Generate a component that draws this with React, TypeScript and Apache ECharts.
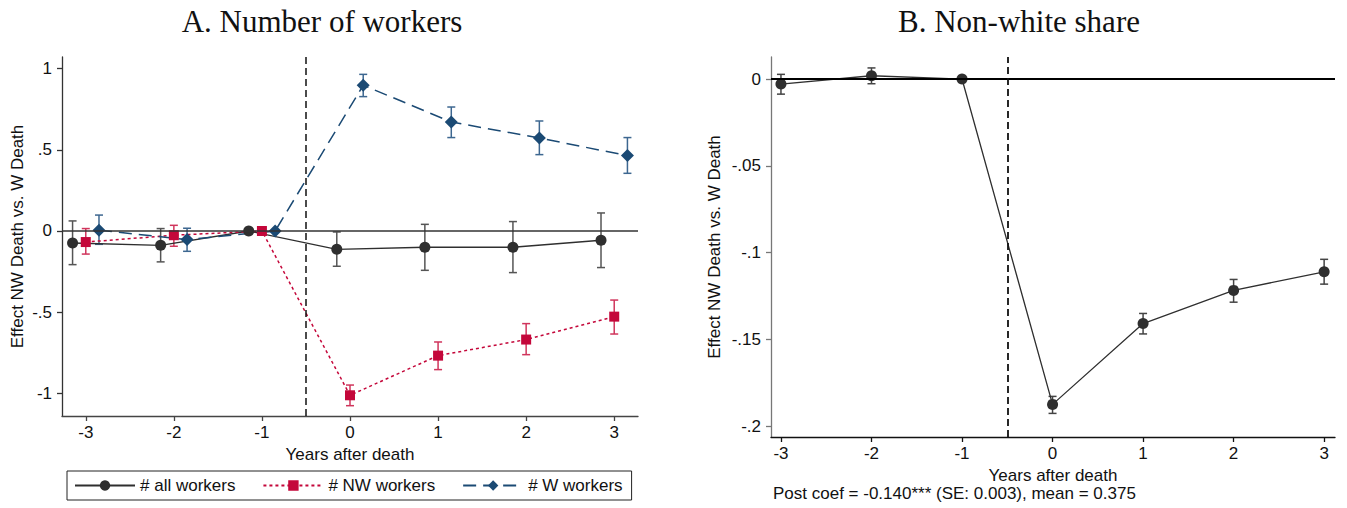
import React, { useEffect, useRef } from "react";
import * as echarts from "echarts";

// Event-study estimates by year relative to the death
const years = [-3, -2, -1, 0, 1, 2, 3];

// Panel A: number of workers
const allCoef = [-0.074, -0.088, 0, -0.113, -0.1, -0.1, -0.057];
const allLo = [-0.207, -0.19, null, -0.217, -0.242, -0.256, -0.225];
const allHi = [0.062, 0.015, null, -0.006, 0.041, 0.058, 0.111];

const nwCoef = [-0.068, -0.026, 0, -1.011, -0.767, -0.668, -0.527];
const nwLo = [-0.142, -0.094, null, -1.075, -0.853, -0.761, -0.634];
const nwHi = [0.015, 0.035, null, -0.948, -0.683, -0.57, -0.425];

const wCoef = [0.005, -0.053, 0, 0.897, 0.671, 0.572, 0.464];
const wLo = [-0.082, -0.125, null, 0.827, 0.575, 0.47, 0.355];
const wHi = [0.098, 0.017, null, 0.964, 0.763, 0.677, 0.575];

// Panel B: non-white share
const shareCoef = [-0.0029, 0.0019, 0, -0.1875, -0.1409, -0.1218, -0.1111];
const shareLo = [-0.0087, -0.0027, null, -0.1927, -0.1469, -0.1286, -0.1182];
const shareHi = [0.0027, 0.0064, null, -0.1829, -0.1351, -0.1155, -0.1039];

const xTicks = [-3, -2, -1, 0, 1, 2, 3];
const yTicksA = [-1, -0.5, 0, 0.5, 1];
const yTicksB = [-0.2, -0.15, -0.1, -0.05, 0];

const titleA = "A. Number of workers";
const titleB = "B. Non-white share";
const yName = "Effect NW Death vs. W Death";
const xName = "Years after death";
const footnote = "Post coef = -0.140*** (SE: 0.003), mean = 0.375";

const SANS = '"Liberation Sans", Arial, sans-serif';
const SERIF = '"Liberation Serif", "DejaVu Serif", serif';

const GRAY = "#2f2f2f";
const RED = "#c4073a";
const BLUE = "#1b4a74";

const stataFmt = (v: number) => {
  const r = Math.round(v * 1000) / 1000;
  return String(r).replace(/^(-?)0\./, "$1.");
};

const points = (coef: number[], shift: number) =>
  years.map((y, i) => [y + shift, coef[i]]);

const bars = (lo: (number | null)[], hi: (number | null)[], shift: number) =>
  years
    .map((y, i) => (lo[i] == null ? null : [y + shift, lo[i], hi[i]]))
    .filter((d) => d !== null);

const errorBarSeries = (data: any[], color: string, axisIndex: number) => ({
  type: "custom",
  xAxisIndex: axisIndex,
  yAxisIndex: axisIndex,
  silent: true,
  z: 2,
  data,
  renderItem: (params: any, api: any) => {
    const x = api.value(0);
    const lo = api.coord([x, api.value(1)]);
    const hi = api.coord([x, api.value(2)]);
    const cap = 4;
    const style = { stroke: color, lineWidth: 1.5 };
    return {
      type: "group",
      children: [
        { type: "line", shape: { x1: lo[0], y1: lo[1], x2: hi[0], y2: hi[1] }, style },
        { type: "line", shape: { x1: lo[0] - cap, y1: lo[1], x2: lo[0] + cap, y2: lo[1] }, style },
        { type: "line", shape: { x1: hi[0] - cap, y1: hi[1], x2: hi[0] + cap, y2: hi[1] }, style },
      ],
    };
  },
});

const xAxisBase = (gridIndex: number, min: number, max: number, lineColor: string) => ({
  type: "value",
  gridIndex,
  min,
  max,
  name: xName,
  nameLocation: "middle",
  nameGap: 24,
  nameTextStyle: { fontFamily: SANS, fontSize: 17, color: "#111" },
  axisLine: { show: true, onZero: false, lineStyle: { color: lineColor, width: 1.3 } },
  axisTick: { show: true, length: 5, customValues: xTicks, lineStyle: { color: lineColor, width: 1.3 } },
  axisLabel: {
    customValues: xTicks,
    margin: 8,
    fontFamily: SANS,
    fontSize: 17,
    color: "#111",
    formatter: (v: number) => String(v),
  },
  splitLine: { show: false },
});

const yAxisBase = (
  gridIndex: number,
  min: number,
  max: number,
  ticks: number[],
  nameGap: number,
  lineColor: string
) => ({
  type: "value",
  gridIndex,
  min,
  max,
  name: yName,
  nameLocation: "middle",
  nameGap,
  nameRotate: 90,
  nameTextStyle: { fontFamily: SANS, fontSize: 17, color: "#111" },
  axisLine: { show: true, onZero: false, lineStyle: { color: lineColor, width: 1.3 } },
  axisTick: { show: true, length: 5, customValues: ticks, lineStyle: { color: lineColor, width: 1.3 } },
  axisLabel: {
    customValues: ticks,
    margin: 10,
    fontFamily: SANS,
    fontSize: 17,
    color: "#111",
    formatter: stataFmt,
  },
  splitLine: { show: false },
});

export default function App() {
  const ref = useRef<HTMLDivElement>(null);

  useEffect(() => {
    if (!ref.current) return;
    const chart = echarts.init(ref.current, null, { renderer: "svg" });

    const option = {
      animation: false,
      backgroundColor: "#fff",
      grid: [
        { left: 62, top: 57, width: 576, height: 359 },
        { left: 771, top: 57, width: 564, height: 380 },
      ],
      xAxis: [xAxisBase(0, -3.27, 3.27, "#444"), xAxisBase(1, -3.11, 3.12, "#111")],
      yAxis: [
        yAxisBase(0, -1.1385, 1.0708, yTicksA, 36, "#333"),
        yAxisBase(1, -0.2063, 0.0127, yTicksB, 48, "#777"),
      ],
      legend: {
        left: 67,
        top: 471,
        orient: "horizontal",
        data: ["# all workers", "# NW workers", "# W workers"],
        borderColor: "#222",
        borderWidth: 1,
        borderRadius: 0,
        padding: [6, 9, 6, 7],
        itemGap: 27,
        itemWidth: 60,
        itemHeight: 13,
        selectedMode: false,
        textStyle: { fontFamily: SANS, fontSize: 17, color: "#111" },
      },
      graphic: [
        {
          type: "text",
          x: 322,
          y: 21,
          style: {
            text: titleA,
            fontFamily: SERIF,
            fontSize: 31,
            fill: "#111",
            textAlign: "center",
            textVerticalAlign: "middle",
          },
        },
        {
          type: "text",
          x: 1019,
          y: 21,
          style: {
            text: titleB,
            fontFamily: SERIF,
            fontSize: 31,
            fill: "#111",
            textAlign: "center",
            textVerticalAlign: "middle",
          },
        },
        {
          type: "text",
          x: 773,
          y: 493,
          style: {
            text: footnote,
            fontFamily: SANS,
            fontSize: 17,
            fill: "#111",
            textAlign: "left",
            textVerticalAlign: "middle",
          },
        },
      ],
      series: [
        errorBarSeries(bars(allLo, allHi, -0.15), "#555", 0),
        errorBarSeries(bars(nwLo, nwHi, 0), "#d0355c", 0),
        errorBarSeries(bars(wLo, wHi, 0.15), "#3d6790", 0),
        {
          name: "# all workers",
          type: "line",
          xAxisIndex: 0,
          yAxisIndex: 0,
          z: 4,
          data: points(allCoef, -0.15),
          symbol: "circle",
          symbolSize: 11,
          itemStyle: { color: GRAY },
          lineStyle: { color: GRAY, width: 1.3, type: "solid" },
          markLine: {
            silent: true,
            symbol: "none",
            label: { show: false },
            lineStyle: { color: "#333", width: 1.6, type: "solid" },
            data: [{ yAxis: 0 }],
          },
        },
        {
          name: "# NW workers",
          type: "line",
          xAxisIndex: 0,
          yAxisIndex: 0,
          z: 4,
          data: points(nwCoef, 0),
          symbol: "rect",
          symbolSize: 10,
          itemStyle: { color: RED },
          lineStyle: { color: RED, width: 1.5, type: [3, 3] },
          markLine: {
            silent: true,
            symbol: "none",
            label: { show: false },
            lineStyle: { color: "#111", width: 1.5, type: [7, 4] },
            data: [{ xAxis: -0.5 }],
          },
        },
        {
          name: "# W workers",
          type: "line",
          xAxisIndex: 0,
          yAxisIndex: 0,
          z: 4,
          data: points(wCoef, 0.15),
          symbol: "diamond",
          symbolSize: 13,
          itemStyle: { color: BLUE },
          lineStyle: { color: BLUE, width: 1.5, type: [13, 7] },
        },
        errorBarSeries(bars(shareLo, shareHi, 0), "#444", 1),
        {
          name: "share",
          type: "line",
          xAxisIndex: 1,
          yAxisIndex: 1,
          z: 4,
          data: points(shareCoef, 0),
          symbol: "circle",
          symbolSize: 11,
          itemStyle: { color: GRAY },
          lineStyle: { color: GRAY, width: 1.3, type: "solid" },
          markLine: {
            silent: true,
            symbol: "none",
            label: { show: false },
            data: [
              { yAxis: 0, lineStyle: { color: "#000", width: 2, type: "solid" } },
              { xAxis: -0.5, lineStyle: { color: "#111", width: 1.8, type: [7, 4] } },
            ],
          },
        },
      ],
    };

    chart.setOption(option as any);
    return () => chart.dispose();
  }, []);

  return (
    <div
      ref={ref}
      style={{ position: "fixed", left: 0, top: 0, width: 1347, height: 508 }}
    />
  );
}
